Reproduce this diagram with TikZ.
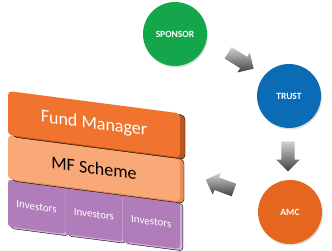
\documentclass[tikz,border=0pt]{standalone}
\usepackage{fontspec}
\setmainfont{Carlito}
\usetikzlibrary{positioning, shapes.arrows, shadows}

\definecolor{sponsorgreen}{HTML}{13A64A}
\definecolor{trustblue}{HTML}{0B6CB5}
\definecolor{amcorange}{HTML}{E5661F}
\definecolor{fmorange}{HTML}{F0732E}
\definecolor{fmside}{HTML}{B9541E}
\definecolor{mflight}{HTML}{F9A877}
\definecolor{mfside}{HTML}{E88A55}
\definecolor{invpurple}{HTML}{B07CB9}
\definecolor{invside}{HTML}{D3AEDB}

\begin{document}
\begin{tikzpicture}[x=1pt, y=-1pt,
  party/.style={circle, minimum size=64pt, inner sep=0pt, text=white,
    font=\fontsize{9.5}{11}\selectfont\bfseries,
    drop shadow={opacity=0.25, shadow xshift=1pt, shadow yshift=-1.5pt}},
  bigarrow/.style={single arrow, draw=none, inner sep=6.5pt,
    minimum height=30pt, single arrow head extend=5pt,
    top color=gray!35, bottom color=black!75},
  layer/.style={rounded corners=4pt, minimum width=172pt, inner sep=0pt},
  invbox/.style={rounded corners=3pt, fill=invpurple, minimum width=57pt,
    minimum height=47pt, inner sep=0pt, text=white, font=\fontsize{11}{13}\selectfont,
    copy shadow={fill=invside, shadow xshift=3pt, shadow yshift=-2pt}}
]
\useasboundingbox (0,0) rectangle (332,250);

% the three parties
\node[party, fill=sponsorgreen] (sponsor) at (175,34) {SPONSOR};
\node[party, fill=trustblue] (trust) at (289,96) {TRUST};
\node[party, fill=amcorange] (amc) at (290,212) {AMC};

% block arrows
\node[bigarrow, rotate=-32] (sp2tr) at (238,59) {};
\node[bigarrow, rotate=-90] (tr2amc) at (288,153) {};
\node[bigarrow, rotate=160] (amc2mf) at (223,186) {};

% the stack
\begin{scope}[shift={(8,91)}, yslant=-0.13, transform shape]
  \node[invbox] (inv1) at (28.5,112) {Investors};
  \node[invbox, right=0pt of inv1] (inv2) {Investors};
  \node[invbox, right=0pt of inv2] (inv3) {Investors};
  \node[layer, fill=mflight, minimum height=44pt, font=\fontsize{18}{20}\selectfont,
    copy shadow={fill=mfside, shadow xshift=4pt, shadow yshift=-2pt}]
    (mfscheme) at (86,66) {MF Scheme};
  \node[layer, fill=fmorange, minimum height=44pt, text=white, font=\fontsize{18}{20}\selectfont,
    copy shadow={fill=fmside, shadow xshift=5pt, shadow yshift=-2pt}]
    (fundmgr) at (86,22) {Fund Manager};
\end{scope}
\end{tikzpicture}
\end{document}
